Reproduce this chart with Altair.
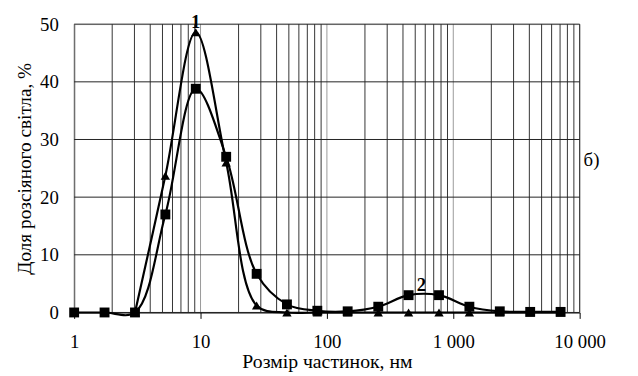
import altair as alt
import pandas as pd

sizes = [1, 1.74, 3.03, 5.27, 9.17, 15.96, 27.8, 48.3, 84, 146, 255, 443, 771, 1341, 2334, 4061, 7067]
series_sq = [0, 0, 0, 17.0, 38.8, 27.0, 6.7, 1.4, 0.3, 0.2, 1.0, 3.0, 3.0, 1.0, 0.2, 0.1, 0.1]
series_tri = [0, 0, 0, 23.7, 48.6, 26.0, 1.2, 0, 0, 0, 0, 0, 0, 0, 0, 0, 0]

major_ticks = [1, 10, 100, 1000, 10000]
minor_ticks = [m * d for d in [1, 10, 100, 1000] for m in range(2, 10)]
y_ticks = [0, 10, 20, 30, 40, 50]

df_sq = pd.DataFrame({"x": sizes, "y": series_sq})
df_tri = pd.DataFrame({"x": sizes[2:], "y": series_tri[2:]})
df_minor = pd.DataFrame({"x": minor_ticks})
df_major = pd.DataFrame({"x": major_ticks})
df_h = pd.DataFrame({"y": y_ticks})
df_lab = pd.DataFrame({"x": [9.17, 560], "y": [48.6, 3.0], "t": ["1", "2"], "dy": [-4, -10]})

FONT = "Liberation Serif"
xs = alt.Scale(type="log", domain=[1, 10000], nice=False)
ys = alt.Scale(domain=[0, 50], nice=False)

xaxis = alt.Axis(values=major_ticks, title="Розмір частинок, нм",
                 labelExpr="datum.value >= 1000 ? replace(format(datum.value, ','), ',', ' ') : format(datum.value, 'd')",
                 grid=False, tickSize=6, labelFlush=False, labelPadding=14, titlePadding=1,
                 labelFont=FONT, titleFont=FONT, labelFontSize=19, titleFontSize=20)
yaxis = alt.Axis(values=y_ticks, title="Доля розсіяного світла, %", grid=False, ticks=False,
                 labelPadding=16, titlePadding=5, labelFont=FONT, titleFont=FONT,
                 labelFontSize=19, titleFontSize=19.5)

enc_x = alt.X("x:Q", scale=xs, axis=xaxis)
enc_y = alt.Y("y:Q", scale=ys, axis=yaxis)

minor = alt.Chart(df_minor).mark_rule(color="#333", strokeWidth=1).encode(x=enc_x)
major = alt.Chart(df_major).mark_rule(color="#999", strokeWidth=1).encode(x=enc_x)
edge = alt.Chart(pd.DataFrame({"x": [10000]})).mark_rule(color="#333", strokeWidth=1).encode(x=enc_x)
hgrid = alt.Chart(df_h).mark_rule(color="#222", strokeWidth=1).encode(y=enc_y)

line_sq = alt.Chart(df_sq).mark_line(color="#000", strokeWidth=2.2, interpolate="catmull-rom").encode(x=enc_x, y=enc_y)
pts_sq = alt.Chart(df_sq).mark_point(shape="square", filled=True, color="#000", size=100, opacity=1).encode(x=enc_x, y=enc_y)
line_tri = alt.Chart(df_tri).mark_line(color="#000", strokeWidth=2.2, interpolate="catmull-rom").encode(x=enc_x, y=enc_y)
pts_tri = alt.Chart(df_tri).mark_point(shape="triangle-up", filled=True, color="#000", size=90, opacity=1).encode(x=enc_x, y=enc_y)
labels = alt.Chart(df_lab).mark_text(font=FONT, fontSize=19, fontWeight="bold", color="#000", baseline="bottom").encode(
    x=enc_x, y=enc_y, text="t:N", yOffset="dy:Q")
side = alt.Chart(pd.DataFrame({"t": ["б)"]})).mark_text(font=FONT, fontSize=19, color="#000", align="left", baseline="middle").encode(
    x=alt.value(516), y=alt.value(138), text="t:N")

chart = alt.layer(minor, major, edge, hgrid, line_sq, line_tri, pts_sq, pts_tri, labels, side).properties(
    width=512, height=292,
    autosize=alt.AutoSizeParams(type="none"),
    padding={"left": 67, "top": 14, "right": 51, "bottom": 64},
).configure_view(stroke=None).configure(background="white").configure_axis(
    labelFont=FONT, titleFont=FONT,
    titleFontWeight="normal", labelColor="#000", titleColor="#000", domainColor="#000", tickColor="#000"
)

chart.save("out.html", embed_options={"renderer": "svg", "actions": False})
